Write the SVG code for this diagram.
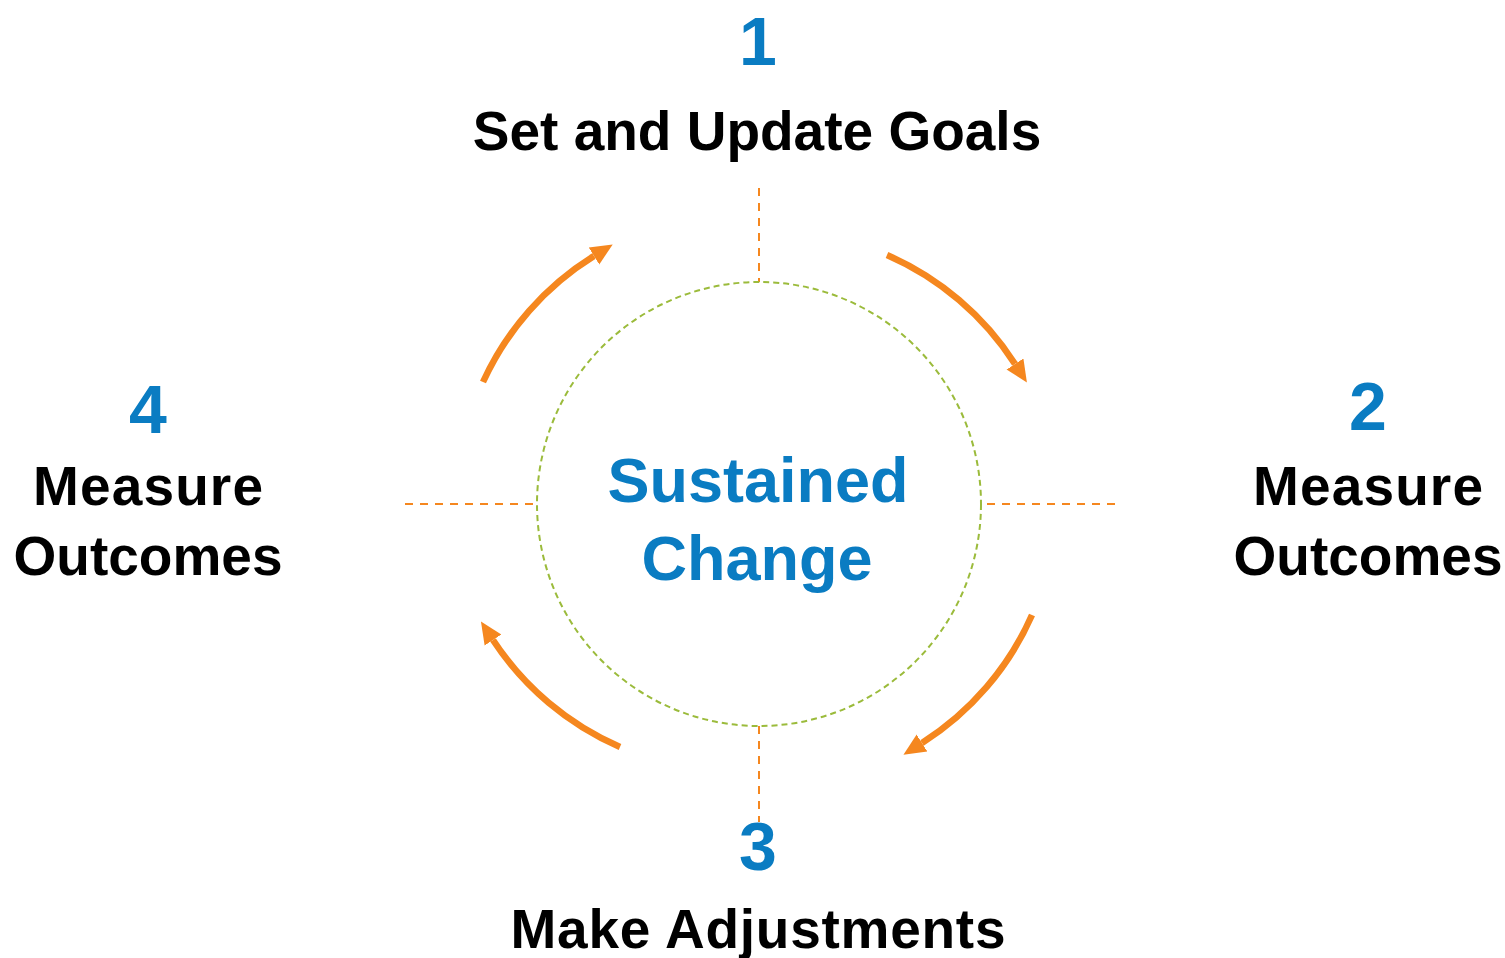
<svg xmlns="http://www.w3.org/2000/svg" width="1505" height="958" viewBox="0 0 1505 958">
  <defs>
    <marker id="ah" markerUnits="userSpaceOnUse" markerWidth="22" markerHeight="22" refX="0" refY="10" orient="auto" viewBox="0 0 22 20">
      <path d="M0,0 L22,10 L0,20 z" fill="#F5871F"/>
    </marker>
    <style>
      .num { font-family: "Liberation Sans", Arial, sans-serif; font-weight: bold; fill: #0A7CC2; font-size: 68px; text-anchor: middle; }
      .lbl { font-family: "Liberation Sans", Arial, sans-serif; font-weight: bold; fill: #000; font-size: 55px; text-anchor: middle; }
      .ctr { font-family: "Liberation Sans", Arial, sans-serif; font-weight: bold; fill: #0A7CC2; font-size: 63px; text-anchor: middle; }
      .guide { stroke: #F5871F; stroke-width: 2; stroke-dasharray: 8 7; fill: none; }
      .arc { stroke: #F5871F; stroke-width: 6.5; fill: none; marker-end: url(#ah); }
    </style>
  </defs>
  <rect width="1505" height="958" fill="#fff"/>
  <g id="connectors">
    <line class="guide" x1="759" y1="188" x2="759" y2="282"/>
    <line class="guide" x1="759" y1="726" x2="759" y2="822"/>
    <line class="guide" x1="405" y1="504" x2="537" y2="504"/>
    <line class="guide" x1="987" y1="504" x2="1116" y2="504"/>
    <path class="arc" d="M887,255 A290,290 0 0 1 1015,364"/>
    <path class="arc" d="M1032,615 A290,290 0 0 1 922,743"/>
    <path class="arc" d="M620,747 A290,290 0 0 1 493,640"/>
    <path class="arc" d="M483,382 A290,290 0 0 1 594,256"/>
  </g>
  <g id="center">
    <circle cx="759" cy="504" r="222" fill="none" stroke="#9BBB3B" stroke-width="2" stroke-dasharray="6 4"/>
    <text class="ctr" x="758" y="502">Sustained</text>
    <text class="ctr" x="757" y="580">Change</text>
  </g>
  <g id="step1">
    <text class="num" x="758" y="65">1</text>
    <text class="lbl" x="757" y="150">Set and Update Goals</text>
  </g>
  <g id="step2">
    <text class="num" x="1368" y="430">2</text>
    <text class="lbl" x="1368" y="505" textLength="230" lengthAdjust="spacing">Measure</text>
    <text class="lbl" x="1368" y="575">Outcomes</text>
  </g>
  <g id="step3">
    <text class="num" x="758" y="870">3</text>
    <text class="lbl" x="758" y="948" textLength="495" lengthAdjust="spacing">Make Adjustments</text>
  </g>
  <g id="step4">
    <text class="num" x="148" y="433">4</text>
    <text class="lbl" x="148" y="505" textLength="230" lengthAdjust="spacing">Measure</text>
    <text class="lbl" x="148" y="575">Outcomes</text>
  </g>
</svg>
